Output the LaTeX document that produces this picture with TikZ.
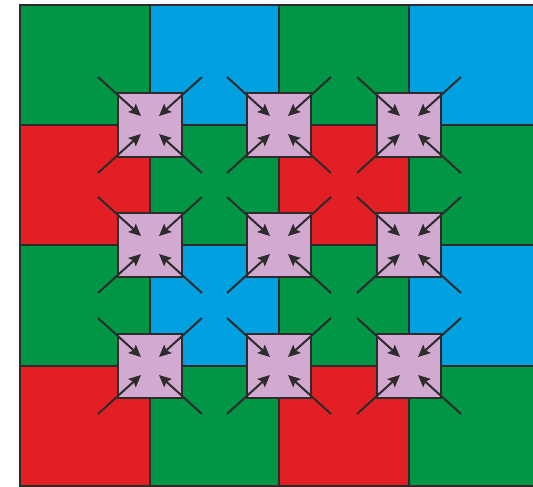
\documentclass[tikz,border=0pt]{standalone}
\usetikzlibrary{arrows.meta,calc}
\definecolor{cgreen}{HTML}{009646}
\definecolor{cblue}{HTML}{00A0E1}
\definecolor{cred}{HTML}{E31F26}
\definecolor{cpink}{HTML}{D2A9D1}
\definecolor{cline}{HTML}{2D2B2C}
\tikzset{
  gridline/.style={draw=cline,line width=2.2pt},
  pad/.style={draw=cline,fill=cpink,line width=2pt,minimum size=64pt,inner sep=0pt},
  arr/.style={draw=cline,line width=2pt,-{Stealth[length=12pt,width=11pt,inset=2pt]}}
}
\begin{document}
\begin{tikzpicture}[x=1pt,y=-1pt]
\useasboundingbox (0,0) rectangle (533,487);
\fill[white] (0,0) rectangle (533,487);
\begin{scope}
\clip (0,0) rectangle (533,487);
% row 1
\fill[cgreen] (20,5) rectangle (150,125);
\fill[cblue] (150,5) rectangle (279,125);
\fill[cgreen] (279,5) rectangle (409,125);
\fill[cblue] (409,5) rectangle (540,125);
% row 2
\fill[cred] (20,125) rectangle (150,245);
\fill[cgreen] (150,125) rectangle (279,245);
\fill[cred] (279,125) rectangle (409,245);
\fill[cgreen] (409,125) rectangle (540,245);
% row 3
\fill[cgreen] (20,245) rectangle (150,366);
\fill[cblue] (150,245) rectangle (279,366);
\fill[cgreen] (279,245) rectangle (409,366);
\fill[cblue] (409,245) rectangle (540,366);
% row 4
\fill[cred] (20,366) rectangle (150,486);
\fill[cgreen] (150,366) rectangle (279,486);
\fill[cred] (279,366) rectangle (409,486);
\fill[cgreen] (409,366) rectangle (540,486);
% grid lines
\foreach \x in {20,150,279,409} \draw[gridline] (\x,4) -- (\x,487);
\foreach \y in {5,125,245,366,486} \draw[gridline] (19,\y) -- (540,\y);
\end{scope}
% pads and arrows
\foreach \x/\c in {150/1,279/2,409/3}{
  \foreach \y/\r in {125/1,245/2,366/3}{
    \node[pad] (p\r\c) at (\x,\y) {};
    \draw[arr] ($(p\r\c)+(-52,-48)$) -- ($(p\r\c)+(-9,-9)$);
    \draw[arr] ($(p\r\c)+(52,-48)$) -- ($(p\r\c)+(9,-9)$);
    \draw[arr] ($(p\r\c)+(-52,48)$) -- ($(p\r\c)+(-9,9)$);
    \draw[arr] ($(p\r\c)+(52,48)$) -- ($(p\r\c)+(9,9)$);
  }
}
\end{tikzpicture}
\end{document}
